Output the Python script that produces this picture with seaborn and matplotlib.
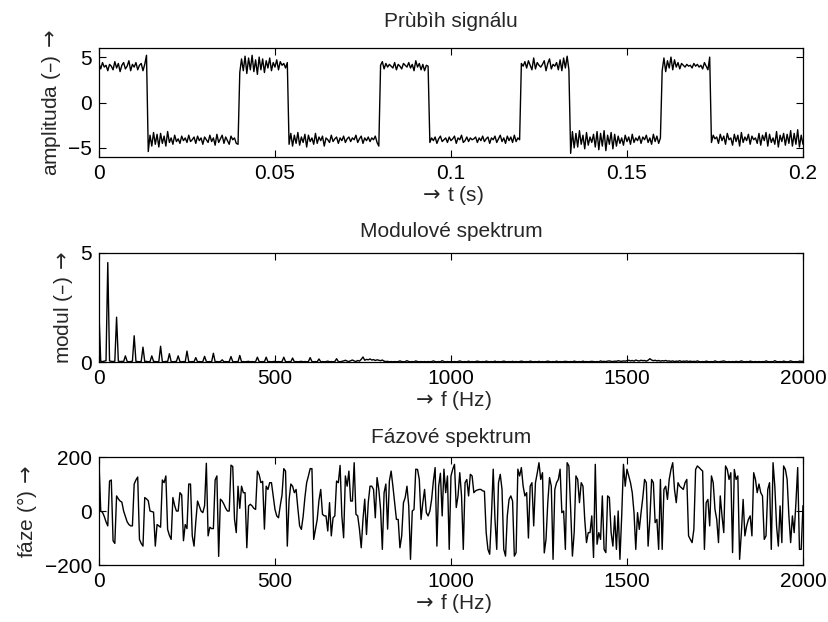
"""
Průběh signálu + modulové a fázové spektrum (MATLAB-like styl)
"""

import numpy as np
import matplotlib
matplotlib.use("Agg")
import matplotlib.pyplot as plt
import seaborn as sns

sns.set_style("ticks")
plt.rcParams["font.family"] = ["Liberation Sans", "DejaVu Sans"]
plt.rcParams["axes.unicode_minus"] = True
plt.rcParams["mathtext.fontset"] = "dejavusans"

# --- data ---
# signál vzorkovaný po 0.5 ms (0 .. 0.2 s)
DT = 0.0005
signal = [
    # vysoká 1
    4.3, 3.7, 4.4, 3.9, 4.1, 3.5, 4.2, 4.0, 3.6, 4.5, 3.8, 4.3, 3.4, 4.1,
    4.4, 3.7, 4.0, 4.6, 3.5, 4.2, 3.9, 4.4, 3.6, 4.1, 4.3, 3.5, 4.2, 5.2,
    # nízká 1
    -5.4, -3.6, -4.8, -3.3, -4.6, -3.5, -4.9, -3.4, -4.5, -3.7, -4.8, -3.2, -4.4,
    -3.9, -4.6, -3.6, -4.3, -4.0, -4.5, -3.7, -4.2, -3.9, -4.4, -3.6, -4.3, -4.1,
    -3.8, -4.5, -3.7, -4.2, -3.9, -4.6, -3.8, -4.1, -4.4, -3.6, -4.3, -3.9, -4.7,
    -3.5, -4.4, -4.0, -3.6, -4.5, -3.8, -4.2, -4.6, -3.7, -4.1, -3.9, -4.5, -4.6,
    # vysoká 2
    3.3, 4.8, 3.5, 5.1, 3.2, 4.9, 3.6, 5.2, 3.4, 4.7, 3.1, 5.0, 3.6, 4.8,
    3.3, 4.6, 3.8, 4.9, 3.5, 4.4, 3.9, 4.7, 3.6, 4.5, 4.1, 4.3, 3.8, 4.4,
    # nízká 2
    -4.6, -3.4, -4.8, -3.6, -4.5, -3.3, -4.7, -3.8, -4.4, -3.5, -4.9, -3.6, -4.3,
    -3.9, -4.6, -3.4, -4.5, -3.8, -4.2, -3.7, -4.8, -3.9, -4.1, -4.4, -3.6, -4.3,
    -4.0, -3.8, -4.5, -3.9, -4.2, -3.7, -4.4, -4.0, -3.8, -4.3, -3.9, -4.1, -3.6,
    -4.4, -4.0, -3.7, -4.5, -3.9, -4.2, -3.8, -4.3, -3.9, -4.1, -3.7, -4.4, -4.8,
    # vysoká 3
    4.1, 4.5, 3.7, 4.3, 3.9, 4.2, 4.0, 3.8, 4.4, 3.6, 4.2, 4.0, 3.7, 4.3,
    4.1, 3.9, 4.4, 3.8, 4.2, 3.5, 4.6, 3.9, 4.3, 3.6, 4.2, 3.5, 4.1, 4.0,
    # nízká 3
    -4.4, -3.9, -4.2, -3.8, -4.5, -4.0, -3.7, -4.3, -4.1, -3.9, -4.4, -3.8, -4.2,
    -4.0, -3.7, -4.5, -3.9, -4.1, -3.6, -4.4, -4.2, -3.8, -4.3, -3.9, -4.1, -4.0,
    -3.8, -4.4, -3.9, -4.2, -3.7, -4.3, -4.0, -3.8, -4.5, -3.9, -4.1, -3.7, -4.4,
    -4.0, -3.6, -4.3, -3.9, -4.5, -3.7, -4.2, -3.8, -4.4, -3.6, -4.3, -3.9, -4.1,
    # vysoká 4
    4.3, 4.0, 4.5, 3.8, 4.6, 4.1, 3.6, 4.9, 3.7, 4.4, 4.1, 3.9, 4.2, 4.6,
    3.5, 4.3, 4.8, 3.7, 4.2, 4.0, 4.4, 3.6, 4.7, 3.5, 4.9, 3.8, 5.1, 3.6,
    # nízká 4
    -5.6, -3.2, -5.0, -3.4, -4.9, -3.1, -4.6, -3.6, -5.1, -3.3, -4.7, -3.8, -4.4,
    -3.5, -4.9, -3.2, -5.2, -3.4, -4.8, -3.1, -5.3, -3.6, -4.6, -3.3, -5.1, -3.5,
    -4.8, -3.7, -4.5, -3.9, -4.7, -3.6, -4.3, -3.8, -4.6, -3.5, -4.4, -3.9, -4.2,
    -3.7, -4.5, -3.8, -4.1, -3.6, -4.4, -3.9, -4.6, -3.5, -4.3, -3.7, -4.5, -3.9,
    # vysoká 5
    3.5, 4.9, 3.4, 4.6, 3.8, 5.0, 3.6, 4.7, 3.9, 4.4, 3.7, 4.3, 4.1, 3.9,
    4.2, 4.0, 4.1, 3.8, 4.3, 4.0, 4.2, 3.9, 4.1, 3.7, 4.4, 4.0, 3.6, 5.0,
    # nízká 5
    -4.4, -3.6, -4.0, -3.8, -4.5, -3.5, -4.2, -3.7, -4.6, -3.4, -4.1, -3.9, -4.7,
    -3.5, -4.3, -3.6, -4.8, -3.3, -4.4, -3.8, -4.2, -3.5, -4.6, -3.7, -4.1, -3.9,
    -4.5, -3.4, -4.7, -3.6, -4.2, -3.3, -4.8, -3.5, -4.4, -3.9, -4.6, -3.2, -4.9,
    -3.6, -4.3, -3.4, -4.7, -3.5, -4.5, -3.1, -4.8, -3.4, -4.6, -3.0, -4.9, -3.6, -4.6,
]

# spektrum po 5 Hz (0 .. 2000 Hz)
DF = 5.0
modul = [
    2.2, 0.03, 0.02, 0.04, 0.06, 4.55, 0.05, 0.03, 0.02, 0.04, 2.05, 0.04, 0.02, 0.03, 0.02, 0.28, 0.03, 0.01, 0.02, 0.04, 1.2, 0.03, 0.02, 0.01, 0.03,
    0.68, 0.02, 0.03, 0.01, 0.02, 0.28, 0.03, 0.02, 0.01, 0.02, 0.72, 0.02, 0.01, 0.03, 0.02, 0.38, 0.02, 0.01, 0.02, 0.03, 0.28, 0.02, 0.01, 0.02, 0.01,
    0.5, 0.02, 0.01, 0.02, 0.01, 0.2, 0.01, 0.02, 0.01, 0.02, 0.26, 0.02, 0.01, 0.02, 0.01, 0.4, 0.01, 0.02, 0.01, 0.02, 0.1, 0.01, 0.02, 0.01, 0.02,
    0.25, 0.02, 0.01, 0.02, 0.01, 0.3, 0.01, 0.02, 0.01, 0.02, 0.03, 0.01, 0.02, 0.01, 0.02, 0.22, 0.02, 0.01, 0.02, 0.01, 0.22, 0.01, 0.02, 0.01, 0.02,
    0.03, 0.01, 0.02, 0.01, 0.02, 0.22, 0.02, 0.01, 0.02, 0.01, 0.18, 0.01, 0.02, 0.01, 0.02, 0.03, 0.01, 0.02, 0.01, 0.02, 0.2, 0.02, 0.01, 0.02, 0.01,
    0.14, 0.01, 0.02, 0.01, 0.02, 0.04, 0.01, 0.02, 0.01, 0.02, 0.15, 0.02, 0.01, 0.03, 0.05, 0.08, 0.04, 0.02, 0.06, 0.09, 0.05, 0.02, 0.07, 0.04, 0.12,
    0.23, 0.08, 0.12, 0.1, 0.14, 0.09, 0.11, 0.07, 0.1, 0.08, 0.06, 0.09, 0.04, 0.02, 0.03, 0.01, 0.02, 0.01, 0.02, 0.01, 0.02, 0.05, 0.02, 0.01, 0.02,
    0.06, 0.02, 0.01, 0.02, 0.01, 0.05, 0.02, 0.01, 0.02, 0.01, 0.02, 0.01, 0.02, 0.01, 0.02, 0.05, 0.02, 0.01, 0.02, 0.01, 0.06, 0.02, 0.01, 0.02, 0.01,
    0.02, 0.01, 0.02, 0.01, 0.02, 0.05, 0.02, 0.01, 0.02, 0.01, 0.04, 0.01, 0.02, 0.01, 0.02, 0.04, 0.02, 0.01, 0.02, 0.01, 0.04, 0.02, 0.01, 0.02, 0.01,
    0.04, 0.01, 0.02, 0.01, 0.02, 0.04, 0.02, 0.01, 0.02, 0.01, 0.03, 0.01, 0.02, 0.01, 0.02, 0.04, 0.02, 0.01, 0.02, 0.01, 0.04, 0.02, 0.01, 0.02, 0.01,
    0.03, 0.01, 0.02, 0.01, 0.02, 0.04, 0.02, 0.01, 0.02, 0.01, 0.04, 0.01, 0.02, 0.01, 0.02, 0.03, 0.02, 0.01, 0.02, 0.01, 0.04, 0.02, 0.01, 0.02, 0.01,
    0.04, 0.01, 0.02, 0.01, 0.02, 0.03, 0.02, 0.01, 0.02, 0.01, 0.05, 0.02, 0.03, 0.02, 0.04, 0.05, 0.03, 0.02, 0.04, 0.03, 0.06, 0.04, 0.03, 0.05, 0.04,
    0.06, 0.08, 0.05, 0.07, 0.04, 0.09, 0.06, 0.05, 0.08, 0.06, 0.07, 0.04, 0.08, 0.15, 0.09, 0.06, 0.08, 0.05, 0.07, 0.04, 0.06, 0.05, 0.07, 0.04, 0.05,
    0.03, 0.05, 0.02, 0.04, 0.03, 0.06, 0.02, 0.04, 0.03, 0.05, 0.02, 0.04, 0.02, 0.03, 0.02, 0.05, 0.02, 0.01, 0.02, 0.01, 0.04, 0.02, 0.01, 0.02, 0.01,
    0.05, 0.02, 0.01, 0.02, 0.03, 0.05, 0.02, 0.01, 0.02, 0.01, 0.02, 0.01, 0.03, 0.01, 0.02, 0.05, 0.02, 0.01, 0.02, 0.01, 0.04, 0.02, 0.01, 0.02, 0.01,
    0.02, 0.01, 0.02, 0.01, 0.05, 0.02, 0.01, 0.02, 0.01, 0.06, 0.02, 0.01, 0.02, 0.01, 0.04, 0.02, 0.01, 0.02, 0.05, 0.02, 0.01, 0.02, 0.01, 0.04, 0.03,
    0.03,
]

faze = [
    180, 0, -5, -20, -40, -55, 111, 115, -110, -120, 56, 45, 37, 33, 0, -20, -40, -50, -55, -55,
    100, 115, 126, -105, -120, -130, 50, 45, 38, 0, -2, -4, -130, -50, -55, -60, 115, 105, 130, -68,
    -90, -105, 50, 20, 0, 0, 68, 60, -110, -50, -65, 100, 100, -92, -130, -40, 37, 19, 0, -6,
    20, 177, -92, -60, -65, -65, 115, 130, -168, 44, 37, 25, 10, 0, 0, 170, 165, -30, -80, 92,
    10, 92, 68, 68, -136, 19, 25, 19, 10, 6, 148, 135, 105, 110, -67, 92, 80, 105, 105, 56,
    6, -18, -25, 20, 60, 157, 148, -130, 40, 100, 92, 68, 80, 10, -55, -68, -20, 50, 105, 130,
    157, 157, -105, -68, -31, 40, 80, -12, -18, -18, -74, 31, -92, -25, -18, 111, 105, 169, -18, -99,
    130, 92, 148, 37, 37, 179, -12, -18, -67, -136, -31, 44, -87, 31, 92, 92, 80, -25, 124, 80,
    6, -142, 68, 100, -67, 111, 148, 92, 30, -31, -31, -136, -92, 31, 50, 92, 19, -179, 0, 6,
    155, 154, 117, -31, 31, 80, -6, -18, 0, 43, 111, 161, -130, 92, 140, -18, 155, 68, 130, -142,
    130, 155, 173, 13, 56, 142, 56, -142, 105, 117, 56, 136, 130, 68, 75, 78, 80, 80, 75, 73,
    -80, -142, -160, -18, 155, -31, -142, 105, 136, 80, -142, -167, -18, 43, 56, 37, -167, -154, 155, 130,
    161, 92, 56, 68, -100, 92, 105, -55, 105, 140, 179, 117, 142, -155, -105, 31, 124, 92, -179, 80,
    105, 117, 155, -6, 0, -142, 179, 167, 6, -167, -80, 130, 117, 31, 105, 92, -31, -117, -80, -80,
    -18, -172, 173, -123, -80, -105, 56, -142, -154, 56, 50, -80, -130, -18, -142, 0, -179, -18, 173, 92,
    155, 130, 105, 68, -6, -142, -6, -68, -6, 50, 117, 105, -130, -31, 117, 105, -43, -31, -142, 117,
    -142, 80, 92, 43, 117, 154, 179, 80, 31, 105, 92, 86, 80, 105, 117, -92, -105, -117, -68, 154,
    167, 161, 154, 148, -142, 31, 43, -55, 130, 105, 6, -31, -117, 56, -18, -80, 167, 154, 117, 142,
    -154, 154, 117, 130, -179, -80, 43, -92, -55, -31, -18, -92, 142, 117, 68, 100, 68, 56, -105, -92,
    80, 105, -142, 179, 92, -55, -130, 19, -117, 167, 154, 117, -18, -117, -18, -80, 31, 161, -142, -142,
    20,
]

t = np.arange(len(signal)) * DT
f_mod = np.arange(len(modul)) * DF
f_faz = np.arange(len(faze)) * DF

FS = 15
ARR_X = r"$\rightarrow\,$"   # šipka před popisem osy x
ARR_Y = r"$\,\rightarrow$"   # šipka za popisem osy y
fig = plt.figure(figsize=(8.29, 6.22), dpi=100)
ax1 = fig.add_axes([0.1194, 0.7476, 0.8492, 0.1752])
ax2 = fig.add_axes([0.1194, 0.4180, 0.8492, 0.1757])
ax3 = fig.add_axes([0.1194, 0.0916, 0.8492, 0.1736])

sns.lineplot(x=t, y=signal, ax=ax1, color="black", linewidth=1.0, estimator=None)
sns.lineplot(x=f_mod, y=modul, ax=ax2, color="black", linewidth=1.0, estimator=None)
sns.lineplot(x=f_faz, y=faze, ax=ax3, color="black", linewidth=1.0, estimator=None)

# osy
ax1.set_xlim(0, 0.2)
ax1.set_ylim(-6, 6)
ax1.set_xticks([0, 0.05, 0.1, 0.15, 0.2])
ax1.set_xticklabels(["0", "0.05", "0.1", "0.15", "0.2"])
ax1.set_yticks([-5, 0, 5])
ax1.set_title("Prùbìh signálu", fontsize=FS, pad=15)
ax1.set_xlabel(ARR_X + "t (s)", fontsize=FS, labelpad=1)
ax1.set_ylabel("amplituda (\u2013)" + ARR_Y, fontsize=FS, labelpad=4)

ax2.set_xlim(0, 2000)
ax2.set_ylim(0, 5)
ax2.set_xticks([0, 500, 1000, 1500, 2000])
ax2.set_yticks([0, 5])
ax2.set_title("Modulové spektrum", fontsize=FS, pad=11)
ax2.set_xlabel(ARR_X + "f (Hz)", fontsize=FS, labelpad=1)
ax2.set_ylabel("modul (\u2013)" + ARR_Y, fontsize=FS, labelpad=4)

ax3.set_xlim(0, 2000)
ax3.set_ylim(-200, 200)
ax3.set_xticks([0, 500, 1000, 1500, 2000])
ax3.set_yticks([-200, 0, 200])
ax3.set_title("Fázové spektrum", fontsize=FS, pad=10)
ax3.set_xlabel(ARR_X + "f (Hz)", fontsize=FS, labelpad=1)
ax3.set_ylabel("fáze (°)" + ARR_Y, fontsize=FS, labelpad=4)

for ax in (ax1, ax2, ax3):
    ax.tick_params(direction="in", top=True, right=True, length=5, width=0.8,
                   labelsize=FS, pad=5, colors="black")
    for sp in ax.spines.values():
        sp.set_visible(True)
        sp.set_linewidth(0.9)
        sp.set_color("black")
    ax.grid(False)

fig.savefig("out.png", dpi=100)
